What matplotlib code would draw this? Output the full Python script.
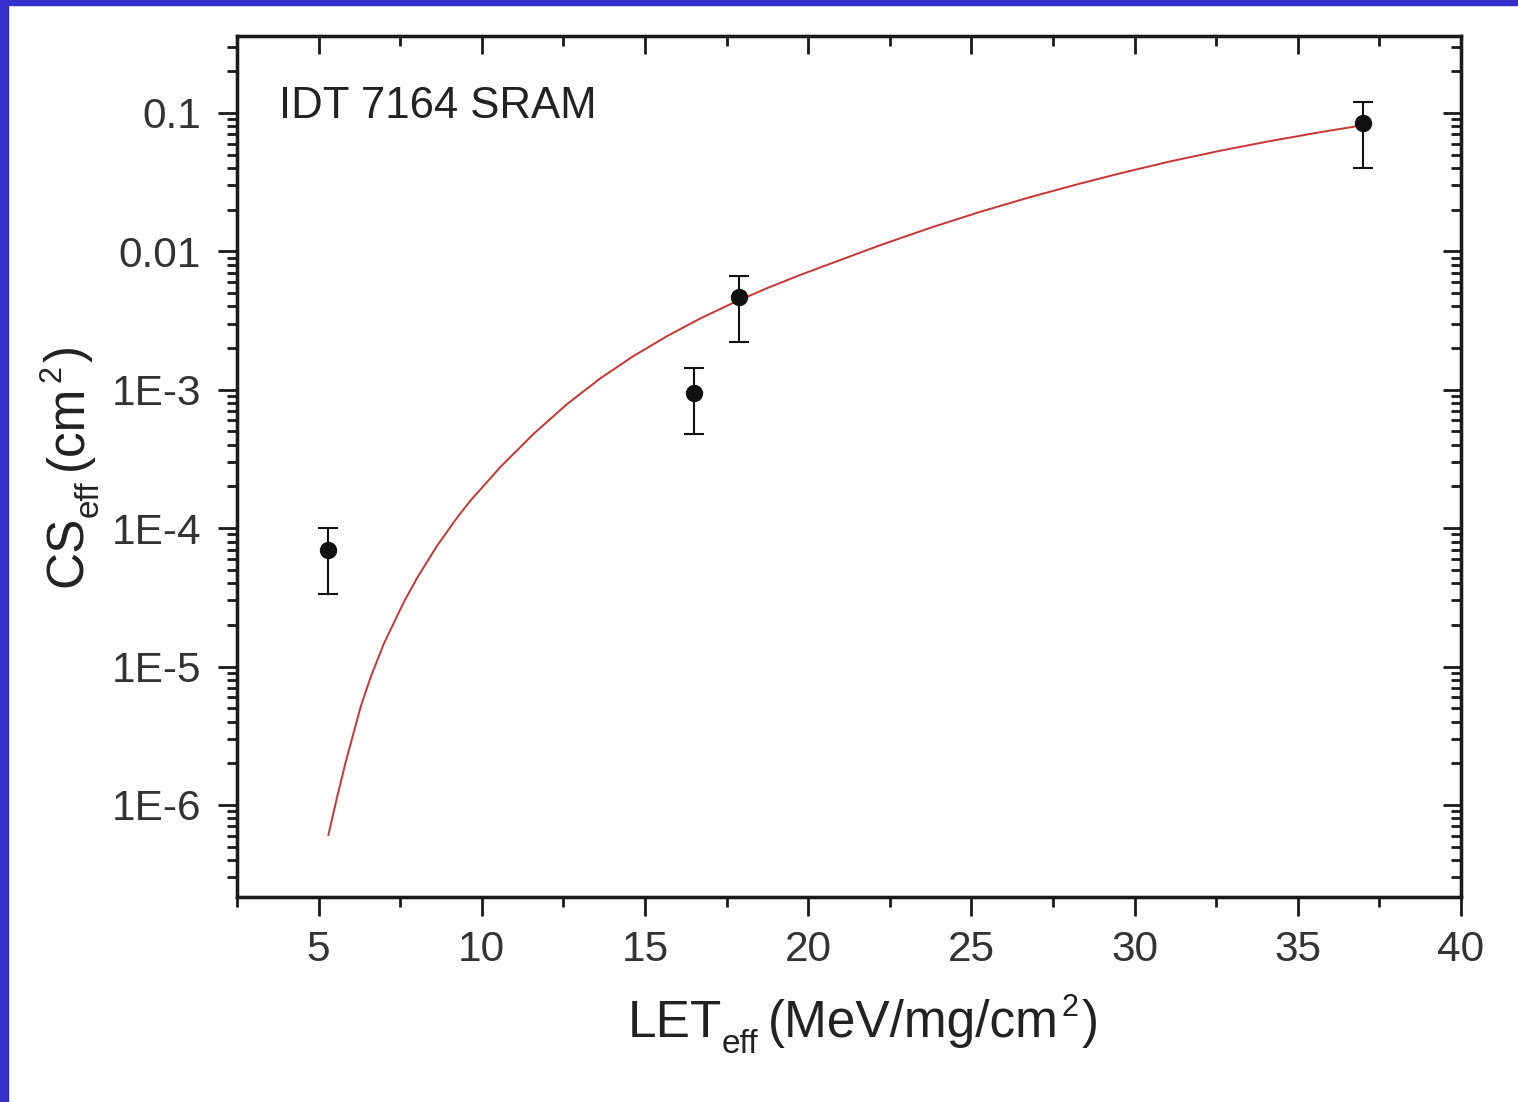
import matplotlib
matplotlib.use("Agg")
import matplotlib.pyplot as plt
from matplotlib.ticker import FixedLocator, LogLocator, NullFormatter, FixedFormatter, MultipleLocator
from matplotlib.patches import Rectangle

plt.rcParams['font.family'] = ['Liberation Sans', 'DejaVu Sans']

# ---- data ----
let_points = [5.30, 16.49, 17.87, 37.0]
cs_points = [6.95e-5, 9.44e-4, 4.66e-3, 8.43e-2]
cs_err_low = [3.33e-5, 4.80e-4, 2.23e-3, 4.03e-2]
cs_err_high = [9.97e-5, 1.44e-3, 6.67e-3, 1.21e-1]

curve_let = [5.30, 5.57, 5.83, 6.29, 6.59, 7.00, 7.61, 8.02, 8.63, 9.25, 9.65,
             10.57, 11.59, 12.62, 13.64, 14.65, 15.68, 16.70, 17.72, 18.74, 19.76,
             20.68, 22.21, 23.74, 25.27, 26.80, 28.33, 29.56, 31.09, 32.62, 34.15,
             35.68, 36.91]
curve_cs = [6.07e-7, 1.148e-6, 2.04e-6, 5.13e-6, 8.32e-6, 1.466e-5, 2.917e-5, 4.375e-5,
            7.46e-5, 1.197e-4, 1.578e-4, 2.767e-4, 4.808e-4, 7.907e-4, 1.213e-3, 1.754e-3,
            2.443e-3, 3.281e-3, 4.266e-3, 5.420e-3, 6.761e-3, 8.147e-3, 1.109e-2, 1.479e-2,
            1.932e-2, 2.466e-2, 3.090e-2, 3.664e-2, 4.467e-2, 5.333e-2, 6.266e-2, 7.261e-2,
            8.091e-2]

x_ticks = [5, 10, 15, 20, 25, 30, 35, 40]
y_ticks = [1e-6, 1e-5, 1e-4, 1e-3, 1e-2, 1e-1]
y_tick_labels = ['1E-6', '1E-5', '1E-4', '1E-3', '0.01', '0.1']
title_text = 'IDT 7164 SRAM'
xlabel_parts = ['LET', 'eff', '(MeV/mg/cm', '2', ')']
ylabel_parts = ['CS', 'eff', '(cm', '2', ')']

# ---- figure ----
W, H = 1518, 1102
fig = plt.figure(figsize=(W / 100, H / 100), dpi=100)
fig.patch.set_facecolor('white')
blue = '#3330CC'
fig.patches.append(Rectangle((0, 0), 8 / W, 1, transform=fig.transFigure, color=blue, zorder=0))
fig.patches.append(Rectangle((0, 1 - 5 / H), 1, 5 / H, transform=fig.transFigure, color=blue, zorder=0))

left, right, bottom, top = 237 / W, 1461 / W, 1 - 897 / H, 1 - 36 / H
ax = fig.add_axes([left, bottom, right - left, top - bottom])

xlim = (2.5, 40)
ylim = (2.16e-7, 0.36)

ax.plot(curve_let, curve_cs, color='#cc3333', lw=1.4, zorder=2)
yerr = [[c - l for c, l in zip(cs_points, cs_err_low)],
        [h - c for c, h in zip(cs_points, cs_err_high)]]
ax.errorbar(let_points, cs_points, yerr=yerr, fmt='o', color='#111111', ms=11.5,
            elinewidth=1.5, capsize=7.2, capthick=1.5, zorder=3)

ax.set_yscale('log')
ax.set_xlim(*xlim)
ax.set_ylim(*ylim)

spine_lw = 2.3
dark = '#1a1a1a'
for s in ax.spines.values():
    s.set_linewidth(spine_lw)
    s.set_color(dark)

ax.xaxis.set_major_locator(FixedLocator(x_ticks))
ax.xaxis.set_minor_locator(MultipleLocator(2.5))
ax.yaxis.set_major_locator(FixedLocator(y_ticks))
ax.yaxis.set_major_formatter(FixedFormatter(y_tick_labels))
ax.yaxis.set_minor_locator(LogLocator(base=10, subs=range(2, 10), numticks=20))
ax.yaxis.set_minor_formatter(NullFormatter())

tick_col = '#333333'
ax.tick_params(which='major', direction='out', length=14, width=2.0, color=dark,
               labelsize=30.5, labelcolor=tick_col)
ax.tick_params(axis='x', which='major', pad=10)
ax.tick_params(axis='y', which='major', pad=12)
ax.tick_params(which='minor', direction='out', length=7, width=2.0, color=dark)
ax.tick_params(top=False, right=False)

# top & right inward ticks
axt = ax.twiny()
axt.set_xlim(*xlim)
axt.xaxis.set_major_locator(FixedLocator(x_ticks))
axt.xaxis.set_minor_locator(MultipleLocator(2.5))
axt.tick_params(which='major', direction='in', length=13, width=2.0, color=dark, labeltop=False)
axt.tick_params(which='minor', direction='in', length=7, width=2.0, color=dark)
axr = ax.twinx()
axr.set_yscale('log')
axr.set_ylim(*ylim)
axr.yaxis.set_major_locator(FixedLocator(y_ticks))
axr.yaxis.set_minor_locator(LogLocator(base=10, subs=range(2, 10), numticks=20))
axr.yaxis.set_minor_formatter(NullFormatter())
axr.tick_params(which='major', direction='in', length=13, width=2.0, color=dark, labelright=False)
axr.tick_params(which='minor', direction='in', length=7, width=2.0, color=dark)
for a in (axt, axr):
    for s in a.spines.values():
        s.set_linewidth(spine_lw)
        s.set_color(dark)

ax.text((279 - 237) / 1224, (897 - 106) / 861, title_text, transform=ax.transAxes,
        fontsize=31.5, color='#222222', ha='left', va='center')

# ---- axis labels built from pieces (small subscript / superscript) ----
renderer = fig.canvas.get_renderer()
label_col = '#222222'
main_fs, sub_fs, sup_fs = 37, 24, 22


def draw_label(parts, x0, y0, rotated):
    sizes = [main_fs, sub_fs, main_fs, sup_fs, main_fs]
    shifts = [0, 16, 0, -21, 0]
    gaps = [-1, 10, 3, 3, 0]
    pos = 0.0
    for s, fs, sh, g in zip(parts, sizes, shifts, gaps):
        if not rotated:
            t = fig.text((x0 + pos) / W, (H - (y0 + sh)) / H, s, fontsize=fs,
                         ha='left', va='baseline', color=label_col)
            pos += t.get_window_extent(renderer).width + g
        else:
            t = fig.text((x0 + sh) / W, (H - (y0 - pos)) / H, s, fontsize=fs,
                         rotation=90, rotation_mode='anchor',
                         ha='left', va='baseline', color=label_col)
            pos += t.get_window_extent(renderer).height + g


draw_label(xlabel_parts, 628, 1037, rotated=False)
draw_label(ylabel_parts, 82, 587, rotated=True)

fig.savefig('out.png', dpi=100, facecolor='white')
